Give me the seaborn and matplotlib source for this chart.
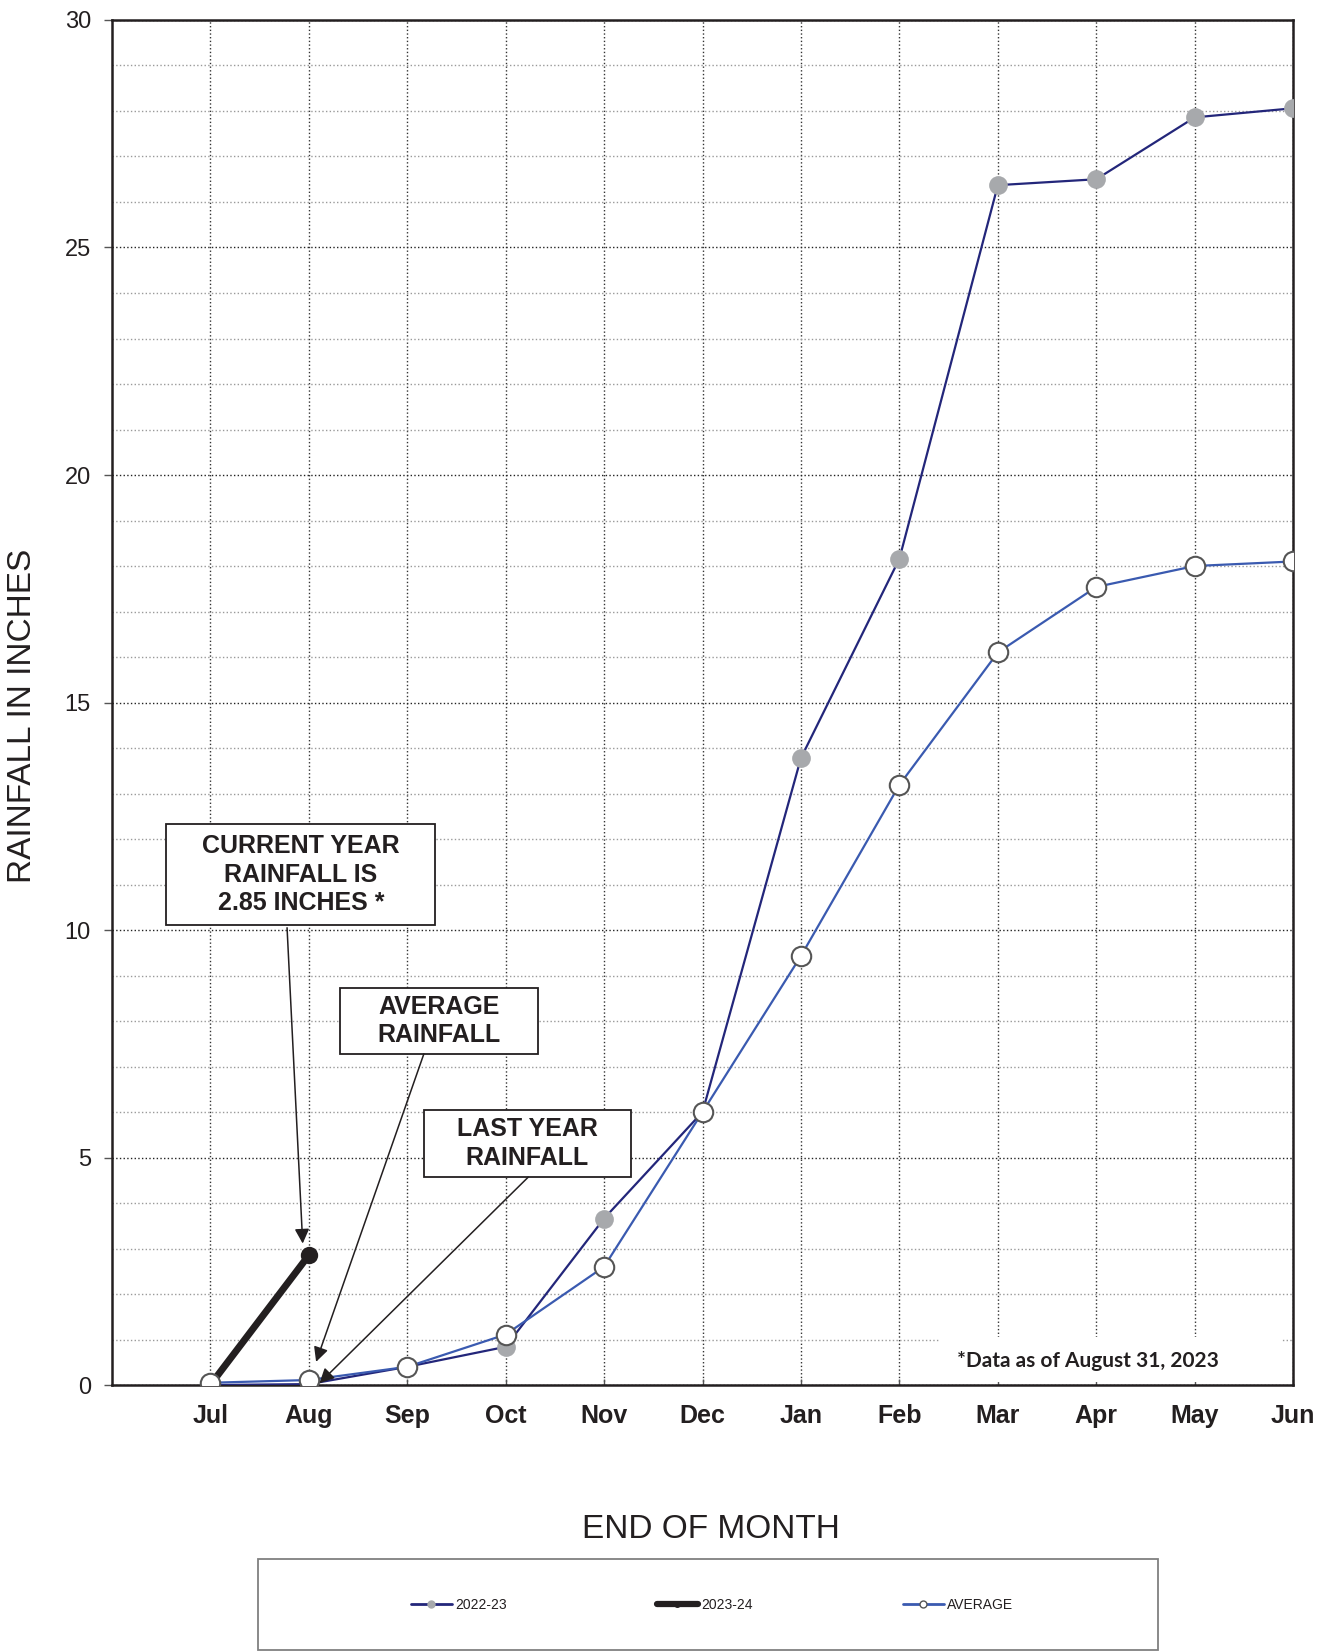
import numpy as np
import pandas as pd
import matplotlib.pyplot as plt
import seaborn as sns
from matplotlib.patches import Rectangle
from matplotlib.lines import Line2D

# cumulative rainfall (inches), end of month
months = ['Jul', 'Aug', 'Sep', 'Oct', 'Nov', 'Dec', 'Jan', 'Feb', 'Mar', 'Apr', 'May', 'Jun']
last_year = [0.0, 0.02, 0.40, 0.84, 3.66, 6.0, 13.78, 18.16, 26.37, 26.50, 27.86, 28.06]
current_year = [0.0, 2.85]
average = [0.05, 0.11, 0.40, 1.11, 2.60, 6.0, 9.43, 13.19, 16.10, 17.54, 18.00, 18.10]
series_labels = ['2022-23', '2023-24', 'AVERAGE']

sns.set_theme(style='white')
plt.rcParams['font.family'] = ['Liberation Sans', 'DejaVu Sans']

NAVY = '#23267a'
BLUE = '#3a5ab0'
GRAY = '#a7a9ac'
INK = '#231f20'

pos = np.arange(len(months))
df_last = pd.DataFrame({'pos': pos, 'rain': last_year})
df_cur = pd.DataFrame({'pos': pos[:len(current_year)], 'rain': current_year})
df_avg = pd.DataFrame({'pos': pos, 'rain': average})

fig = plt.figure(figsize=(13.28, 16.52), dpi=100)
ax = fig.add_axes([0.0842, 0.1616, 0.8896, 0.8263])

# the three series
sns.lineplot(data=df_last, x='pos', y='rain', ax=ax, errorbar=None, color=NAVY, lw=1.6,
             marker='o', markersize=13.5, markerfacecolor=GRAY, markeredgecolor=GRAY,
             markeredgewidth=0, zorder=3)
sns.lineplot(data=df_cur, x='pos', y='rain', ax=ax, errorbar=None, color=INK, lw=5,
             marker='o', markersize=12.5, markerfacecolor=INK, markeredgecolor=INK,
             markeredgewidth=0, zorder=3.5)
sns.lineplot(data=df_avg, x='pos', y='rain', ax=ax, errorbar=None, color=BLUE, lw=1.6,
             marker='o', markersize=14, markerfacecolor='white', markeredgecolor='#555555',
             markeredgewidth=1.5, zorder=4)

# axes, ticks, grid
ax.set_xlim(-1, 11)
ax.set_ylim(0, 30)
ax.set_xticks(pos)
ax.set_xticklabels(months, fontsize=18, fontweight='bold', color=INK)
ax.set_yticks(range(0, 31, 5))
ax.set_yticks(range(1, 30), minor=True)
ax.tick_params(axis='y', which='major', direction='out', length=6, width=1, color='#555555',
               pad=9, labelsize=17, labelcolor=INK, left=True)
ax.tick_params(axis='y', which='minor', length=0)
ax.tick_params(axis='x', which='major', direction='in', length=4, width=1, color='#555555',
               pad=14, bottom=True)

ax.set_axisbelow(True)
ax.grid(which='major', axis='x', linestyle=':', color='#333333', lw=1)
ax.grid(which='major', axis='y', linestyle=':', color='#222222', lw=1)
ax.grid(which='minor', axis='y', linestyle=':', color='#9a9a9a', lw=1)

for sp in ax.spines.values():
    sp.set_color(INK)
    sp.set_linewidth(1.8)

ax.set_ylabel('RAINFALL IN INCHES', fontsize=24, color=INK)
ax.yaxis.set_label_coords(-0.0754, 0.49)
ax.yaxis.label.set_va('center')
ax.set_xlabel('END OF MONTH', fontsize=24, color=INK)
ax.xaxis.set_label_coords(0.507, -0.1057)
ax.xaxis.label.set_va('center')

# note in the lower right corner (white patch hides the grid)
ax.add_patch(Rectangle((7.40, 0.07), 3.48, 0.99, facecolor='white', edgecolor='none', zorder=1))
ax.text(8.92, 0.53, '*Data as of August 31, 2023', ha='center', va='center', fontsize=15,
        fontweight='bold', family=['Lato', 'DejaVu Sans'], color=INK, zorder=2)

# callout boxes with arrows
callouts = [
    ('CURRENT YEAR\nRAINFALL IS\n2.85 INCHES *', (-0.447, 10.11, 2.733, 2.22), (0.92, 11.22),
     (0.78, 10.05), (0.939, 3.11)),
    ('AVERAGE\nRAINFALL', (1.316, 7.28, 2.017, 1.45), (2.325, 8.0),
     (2.17, 7.28), (1.075, 0.51)),
    ('LAST YEAR\nRAINFALL', (2.167, 4.57, 2.103, 1.48), (3.22, 5.31),
     (3.23, 4.57), (1.109, 0.04)),
]
for text, (bx, by, bw, bh), (tx, ty), start, tip in callouts:
    ax.add_patch(Rectangle((bx, by), bw, bh, facecolor='white', edgecolor=INK, lw=1.3, zorder=5))
    ax.text(tx, ty, text, ha='center', va='center', fontsize=18, fontweight='bold', color=INK,
            linespacing=1.25, zorder=6)
    ax.annotate('', xy=tip, xytext=start,
                arrowprops=dict(arrowstyle='-|>', color=INK, lw=1.1, mutation_scale=22,
                                shrinkA=0, shrinkB=0), zorder=6)

# legend in its own box at the bottom
fig.add_artist(Rectangle((0.1946, 0.0015), 0.6775, 0.0547, transform=fig.transFigure,
                         fill=False, edgecolor='#808080', lw=1.3))
handles = [
    Line2D([], [], color=NAVY, lw=2, marker='o', markersize=5, markerfacecolor=GRAY,
           markeredgecolor=GRAY),
    Line2D([], [], color=INK, lw=4.5, marker='o', markersize=4, markerfacecolor=INK,
           markeredgecolor=INK),
    Line2D([], [], color=BLUE, lw=2, marker='o', markersize=5, markerfacecolor='white',
           markeredgecolor='#555555', markeredgewidth=1),
]
fig.legend(handles, series_labels, loc='center', bbox_to_anchor=(0.536, 0.0284), ncol=3,
           frameon=False, fontsize=10, handlelength=3, handletextpad=0.2, columnspacing=10.8,
           labelcolor=INK)

fig.savefig('out.png', dpi=100)
